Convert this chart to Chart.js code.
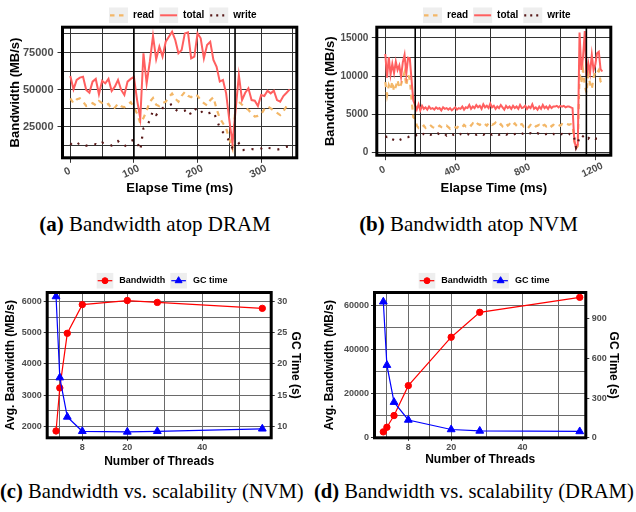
<!DOCTYPE html>
<html>
<head>
<meta charset="utf-8">
<script src="https://cdn.jsdelivr.net/npm/chart.js@4.4.1/dist/chart.umd.min.js"></script>
<style>
  html, body { margin: 0; padding: 0; background: #fff; }
  #page { position: relative; width: 636px; height: 512px; overflow: hidden; background: #fff; }
  canvas { position: absolute; }
  .cap { position: absolute; font-family: 'Liberation Serif', 'Times New Roman', serif; font-size: 21px;
         line-height: 21px; white-space: nowrap; color: #000; }
  .cap.low { font-size: 20.6px; }
  .cap b { font-weight: bold; }
</style>
</head>
<body>
<div id="page">
  <canvas id="chartA" width="318" height="200" style="left:0;top:0;width:318px;height:200px"></canvas>
  <canvas id="chartB" width="318" height="200" style="left:318px;top:0;width:318px;height:200px"></canvas>
  <canvas id="chartC" width="318" height="210" style="left:0;top:260px;width:318px;height:210px"></canvas>
  <canvas id="chartD" width="318" height="210" style="left:318px;top:260px;width:318px;height:210px"></canvas>
  <div class="cap" style="left:0;top:214px;width:310px;text-align:center"><b>(a)</b> Bandwidth atop DRAM</div>
  <div class="cap" style="left:318px;top:214px;width:301px;text-align:center"><b>(b)</b> Bandwidth atop NVM</div>
  <div class="cap low" style="left:0;top:481px"><b>(c)</b> Bandwidth vs. scalability (NVM)</div>
  <div class="cap low" style="left:314px;top:481px"><b>(d)</b> Bandwidth vs. scalability (DRAM)</div>
</div>
<script>
// ---------- (a) memory bandwidth over time, DRAM ----------
const dramTime = [0,5,10,15,20,25,30,35,40,45,50,55,60,65,70,75,80,85,90,95,
  100,105,110,115,120,125,130,135,140,145,150,155,160,165,170,175,180,185,190,195,
  200,205,210,215,220,225,230,235,240,245,250,255,260,265,270,275,280,285,290,295,
  300,305,310,315,320,325,330,335,340,345];
const dramTotal = [59300,50300,56600,58200,58800,49900,48100,55500,57300,47000,
  56100,54300,57300,49200,52100,56600,49900,46500,55500,57300,
  58600,43100,30800,74500,54300,68900,86200,70500,79000,72300,
  82300,85700,89100,83500,74500,76700,87900,88600,71100,72300,
  87900,84600,71100,80100,82300,70000,65500,55500,56600,47600,
  29700,14000,37000,59900,43100,48000,51000,43100,42700,39100,
  46500,45800,49400,47600,49400,43100,42000,45800,48000,50300];
const dramRead = [44300,41000,43500,44300,42000,39100,39500,41000,39600,42500,
  41000,39600,40500,37000,38000,40700,39000,38200,40000,41700,
  38000,34000,27500,31000,36000,42000,44500,40000,39000,41000,
  42000,45000,47500,44000,42000,46000,48500,46000,45000,47000,
  46000,43000,41000,39500,43000,45000,37000,31000,27500,24000,
  17000,10500,41000,42000,40000,38000,36500,34000,32000,32500,
  33500,37000,39000,37500,36000,34500,33000,35500,39000,39500];
const dramWrite = [14000,12000,13000,14500,13500,12500,12500,13000,13500,12500,
  14500,14000,13500,12500,13000,15500,13000,12000,13500,15500,
  16500,15000,9500,24000,25000,29700,36000,33200,35000,37600,
  39000,39500,40500,37000,35300,35500,36000,37300,33000,36000,
  38200,36000,33500,34200,34500,35300,30200,24500,21500,19600,
  15100,10700,12000,14000,9500,9600,9800,10200,9800,9800,
  10500,11800,11000,10700,10500,9800,10200,11000,11800,11500];
const dramPhaseMarks = [100, 259];
const dramXGrid = [0, 50, 100, 150, 200, 250, 300, 350];
const dramXLabels = [0, 100, 200, 300];
const dramYGrid = [12500, 25000, 37500, 50000, 62500, 75000, 87500];
const dramYLabels = [25000, 50000, 75000];

// ---------- (b) memory bandwidth over time, NVM ----------
const nvmTime = [0,10,20,30,40,50,60,70,80,90,
  100,110,120,130,140,150,160,170,180,190,
  200,210,220,230,240,250,260,270,280,290,
  300,310,320,330,340,350,360,370,380,390,
  400,410,420,430,440,450,460,470,480,490,
  500,510,520,530,540,550,560,570,580,590,
  600,610,620,630,640,650,660,670,680,690,
  700,710,720,730,740,750,760,770,780,790,
  800,810,820,830,840,850,860,870,880,890,
  900,910,920,930,940,950,960,970,980,990,
  1000,1010,1020,1030,1040,1050,1060,1070,1080,1090,
  1100,1110,1120,1130,1140,1150,1160,1170,1180,1190,
  1200,1210,1220,1230,1240];
const nvmTotal = [12900,9800,12500,10200,11600,10400,11900,10800,11400,9900,
  11800,12800,10300,12400,12300,9500,6800,6200,5600,6300,
  5500,6100,5700,5900,5600,6000,5700,5800,5600,5900,
  5700,5800,5500,5900,5700,5800,5600,5800,5500,5700,
  5900,5600,5800,5700,6000,5600,5900,5800,6200,5700,
  6000,5800,6200,5900,6100,5700,6300,5900,6100,5800,
  6400,5900,6100,5700,6000,5800,6200,5900,5600,6100,
  5800,6000,5700,6100,5800,6000,5700,6200,5800,5900,
  6100,5700,6000,5800,6300,5700,5900,5600,6000,5700,
  6200,5800,6000,5700,6100,5800,6000,6000,6100,5900,
  6100,6000,6100,5900,6000,6000,5900,5800,1500,600,
  1100,15700,10800,12500,15900,10000,11700,10400,12800,10800,
  11500,13000,13200,10900,10600];
const nvmRead = [9200,7500,8800,8200,9300,8000,8600,9500,8400,8900,
  9700,10500,8700,10200,9600,7000,4600,4400,3500,3200,
  3400,3300,3500,3200,3400,3300,3500,3300,3200,3400,
  3300,3500,3300,3200,3400,3500,3300,3100,3300,3400,
  3300,3200,3500,3400,3300,3600,3400,3500,3700,3500,
  3800,3600,3900,3700,3600,3800,3900,3700,3500,3800,
  3900,3600,3700,3900,3600,3500,3700,3400,3600,3800,
  3500,3700,3400,3600,3800,3500,3300,3600,3700,3400,
  3600,3500,3300,3600,3500,3700,3400,3500,3600,3300,
  3500,3600,3400,3500,3700,3400,3600,3500,3700,3600,
  3500,3700,3600,3800,3700,3600,3700,3600,1500,500,
  800,10500,9000,10800,8700,7800,10200,9000,8300,9800,
  10600,10400,10800,9300,9000];
const nvmWrite = [2100,2000,2100,1800,1700,1600,1700,1800,1600,1700,
  1800,1900,2000,2000,2100,2100,2200,2100,2300,2200,
  2400,2300,2400,2300,2500,2400,2300,2400,2300,2400,
  2500,2300,2400,2300,2400,2200,2400,2300,2400,2300,
  2400,2200,2300,2400,2300,2200,2300,2400,2300,2200,
  2300,2400,2300,2400,2300,2400,2300,2400,2300,2500,
  2400,2300,2400,2300,2400,2300,2400,2500,2400,2300,
  2400,2300,2400,2300,2400,2500,2400,2300,2400,2500,
  2400,2300,2400,2500,2400,2300,2400,2500,2400,2500,
  2400,2300,2400,2500,2400,2300,2400,2300,2400,2400,
  2300,2400,2300,2400,2300,2400,2300,2400,1900,600,
  1200,2000,2300,2100,2300,2000,1800,2100,2000,1900,
  1800,1800,1700,1800,1700];
const nvmPhaseMarks = [171, 1149];
const nvmXGrid = [0, 200, 400, 600, 800, 1000, 1200];
const nvmXLabels = [0, 400, 800, 1200];
const nvmYGrid = [0, 2500, 5000, 7500, 10000, 12500, 15000];
const nvmYLabels = [0, 5000, 10000, 15000];

// ---------- (c)/(d) scalability with thread count ----------
const threads = [1, 2, 4, 8, 20, 28, 56];
const threadGrid = [2, 8, 14, 20, 30, 40, 50];
const threadLabels = [8, 20, 40];

const nvmBandwidth = [1850, 3230, 4980, 5900, 6030, 5970, 5780];
const nvmGcTime = [30.8, 17.8, 11.5, 9.2, 9.1, 9.2, 9.6];
const nvmBwGrid = [2000, 2500, 3000, 3500, 4000, 4500, 5000, 5500, 6000];
const nvmBwLabels = [2000, 3000, 4000, 5000, 6000];
const nvmGcLabels = [10, 15, 20, 25, 30];

const dramBandwidth = [2700, 4800, 10100, 23700, 45700, 57000, 63800];
const dramGcTime = [1030, 550, 270, 135, 63, 52, 48];
const dramBwGrid = [0, 10000, 20000, 30000, 40000, 50000, 60000];
const dramBwLabels = [0, 20000, 40000, 60000];
const dramGcLabels = [0, 300, 600, 900];

// ---------- styling ----------
const FONT = "'Liberation Sans', Arial, Helvetica, sans-serif";
const C_READ = '#F3B768';
const C_TOTAL = '#FF5F5F';
const C_WRITE = '#571818';
const C_BW = '#FF0000';
const C_GC = '#0000FF';
const TICK_GREY = '#4D4D4D';

Chart.defaults.font.family = FONT;
Chart.defaults.color = TICK_GREY;

const pts = (xs, ys) => xs.map((x, i) => ({ x: x, y: ys[i] }));

// frame, phase markers, rotated time labels and the key
const panelDecor = {
  id: 'panelDecor',
  afterDatasetsDraw(chart, args, o) {
    const { ctx, chartArea: a, scales } = chart;
    if (o.vlines) {
      ctx.save();
      ctx.strokeStyle = '#000';
      ctx.lineWidth = 1.6;
      o.vlines.forEach(v => {
        const x = scales.x.getPixelForValue(v);
        ctx.beginPath(); ctx.moveTo(x, a.top); ctx.lineTo(x, a.bottom); ctx.stroke();
      });
      ctx.restore();
    }
  },
  afterDraw(chart, args, o) {
    const { ctx, chartArea: a, scales } = chart;
    ctx.save();
    ctx.strokeStyle = '#000';
    ctx.lineWidth = 3;
    ctx.strokeRect(a.left, a.top, a.right - a.left, a.bottom - a.top);
    ctx.restore();

    if (o.xLabels) {
      const X = o.xLabels;
      ctx.save();
      ctx.font = 'bold ' + X.size + 'px ' + FONT;
      ctx.fillStyle = TICK_GREY;
      ctx.textAlign = 'center';
      ctx.textBaseline = 'middle';
      X.values.forEach(v => {
        const x = scales.x.getPixelForValue(v);
        ctx.save();
        ctx.translate(x + X.dx, a.bottom + X.dy);
        ctx.rotate(-X.angle * Math.PI / 180);
        ctx.fillText(String(v), 0, 0);
        ctx.restore();
      });
      ctx.restore();
    }

    if (o.legend) {
      const L = o.legend;
      let x = L.x;
      ctx.save();
      ctx.font = 'bold ' + L.size + 'px ' + FONT;
      L.items.forEach(it => {
        ctx.fillStyle = '#EEEEEE';
        ctx.fillRect(x, L.y - L.kh / 2, L.kw, L.kh);
        ctx.save();
        ctx.strokeStyle = it.color;
        ctx.lineWidth = it.width;
        ctx.setLineDash(it.dash || []);
        ctx.beginPath(); ctx.moveTo(x + 1, L.y); ctx.lineTo(x + L.kw - 1, L.y); ctx.stroke();
        ctx.restore();
        if (it.point) {
          ctx.fillStyle = it.color;
          ctx.strokeStyle = it.color;
          Chart.helpers.drawPoint(ctx, { pointStyle: it.point, radius: it.radius, borderWidth: 1, rotation: 0 }, x + L.kw / 2, L.y);
        }
        ctx.fillStyle = '#000';
        ctx.textAlign = 'left';
        ctx.textBaseline = 'middle';
        ctx.fillText(it.label, x + L.kw + L.gap, L.y);
        x += L.kw + L.gap + ctx.measureText(it.label).width + L.spacing;
      });
      ctx.restore();
    }
  }
};

// linear axis whose grid lines come from a list and whose labels from another
function axis(o) {
  const horizontal = o.position === 'bottom';
  return {
    type: 'linear',
    position: o.position,
    min: o.min, max: o.max,
    bounds: 'data',
    afterBuildTicks: s => { s.ticks = o.grid.map(v => ({ value: v })); },
    afterFit: s => { if (horizontal) s.height = o.size; else s.width = o.size; },
    grid: {
      display: true,
      drawOnChartArea: o.drawGrid !== false,
      color: o.gridColor || '#333',
      lineWidth: 1,
      borderDash: o.dash || [3, 3],
      drawTicks: true,
      tickLength: o.tickLength,
      tickWidth: 1,
      tickBorderDash: [],
      tickColor: c => (c.tick && o.labels.includes(c.tick.value)) ? '#333' : 'rgba(0,0,0,0)'
    },
    border: { display: false },
    ticks: {
      display: o.showLabels !== false,
      autoSkip: false,
      maxRotation: 0, minRotation: 0,
      padding: o.padding,
      color: TICK_GREY,
      font: { size: o.fontSize, weight: 'bold' },
      callback: v => o.labels.includes(v) ? String(v) : ''
    },
    title: {
      display: true,
      text: o.title,
      color: '#000',
      font: { size: o.titleSize, weight: 'bold' },
      padding: o.titlePadding
    }
  };
}

const baseOptions = (pad) => ({
  responsive: false,
  animation: false,
  devicePixelRatio: 1,
  events: [],
  layout: { padding: pad },
  plugins: { legend: { display: false }, tooltip: { enabled: false } }
});

const timeKey = [
  { label: 'read', color: C_READ, width: 2.2, dash: [4.5, 4.5] },
  { label: 'total', color: C_TOTAL, width: 2 },
  { label: 'write', color: C_WRITE, width: 2.2, dash: [2, 4] }
];

// ----- (a) -----
new Chart(document.getElementById('chartA'), {
  type: 'line',
  data: {
    datasets: [
      { label: 'write', data: pts(dramTime, dramWrite), borderColor: C_WRITE, borderWidth: 2.2, borderDash: [2, 7], pointRadius: 0, order: 0 },
      { label: 'total', data: pts(dramTime, dramTotal), borderColor: C_TOTAL, borderWidth: 2, pointRadius: 0, order: 1 },
      { label: 'read', data: pts(dramTime, dramRead), borderColor: C_READ, borderWidth: 2.2, borderDash: [5, 5], pointRadius: 0, order: 2 }
    ]
  },
  options: Object.assign(baseOptions({ top: 27.2, right: 21.2, left: 0, bottom: 0 }), {
    scales: {
      x: axis({ position: 'bottom', min: -12.3, max: 356.1, grid: dramXGrid, labels: dramXLabels, size: 42.2,
                tickLength: 5, padding: 2, fontSize: 10.5, showLabels: false, gridColor: '#333', dash: [4, 4],
                title: 'Elapse Time (ms)', titleSize: 13, titlePadding: { top: 0, bottom: 4 } }),
      y: axis({ position: 'left', min: 4302, max: 92066, grid: dramYGrid, labels: dramYLabels, size: 62.5,
                tickLength: 5, padding: 4, fontSize: 11, gridColor: '#333', dash: [4, 4],
                title: 'Bandwidth (MB/s)', titleSize: 13, titlePadding: { top: 7.2, bottom: 0 } })
    },
    plugins: {
      legend: { display: false }, tooltip: { enabled: false },
      panelDecor: {
        vlines: dramPhaseMarks,
        xLabels: { values: dramXLabels, dx: -3, dy: 13.9, angle: 25, size: 10.5 },
        legend: { x: 109, y: 15.3, kw: 19, kh: 15.6, gap: 5, spacing: 5, size: 10, items: timeKey }
      }
    }
  }),
  plugins: [panelDecor]
});

// ----- (b) -----
new Chart(document.getElementById('chartB'), {
  type: 'line',
  data: {
    datasets: [
      { label: 'write', data: pts(nvmTime, nvmWrite), borderColor: C_WRITE, borderWidth: 2.2, borderDash: [2, 6.5], pointRadius: 0, order: 0 },
      { label: 'total', data: pts(nvmTime, nvmTotal), borderColor: C_TOTAL, borderWidth: 2, pointRadius: 0, order: 1 },
      { label: 'read', data: pts(nvmTime, nvmRead), borderColor: C_READ, borderWidth: 2.2, borderDash: [5, 5], pointRadius: 0, order: 2 }
    ]
  },
  options: Object.assign(baseOptions({ top: 27.2, right: 25.2, left: 0, bottom: 0 }), {
    scales: {
      x: axis({ position: 'bottom', min: -48.6, max: 1288.6, grid: nvmXGrid, labels: nvmXLabels, size: 44.8,
                tickLength: 5, padding: 2, fontSize: 10, showLabels: false, gridColor: '#333', dash: [4, 4],
                title: 'Elapse Time (ms)', titleSize: 13, titlePadding: { top: 0, bottom: 4.2 } }),
      y: axis({ position: 'left', min: -380, max: 16413, grid: nvmYGrid, labels: nvmYLabels, size: 58.8,
                tickLength: 5, padding: 3.5, fontSize: 10, gridColor: '#333', dash: [4, 4],
                title: 'Bandwidth (MB/s)', titleSize: 13, titlePadding: { top: 4.7, bottom: 0 } })
    },
    plugins: {
      legend: { display: false }, tooltip: { enabled: false },
      panelDecor: {
        vlines: nvmPhaseMarks,
        xLabels: { values: nvmXLabels, dx: -3, dy: 14.8, angle: 25, size: 10 },
        legend: { x: 105, y: 15.3, kw: 19, kh: 15.6, gap: 5, spacing: 5, size: 10, items: timeKey }
      }
    }
  }),
  plugins: [panelDecor]
});

// ----- (c) and (d): bandwidth on the left axis, GC time on the right -----
function scalabilityChart(id, bw, gc, cfg) {
  return new Chart(document.getElementById(id), {
    type: 'line',
    data: {
      datasets: [
        { label: 'GC time', data: pts(threads, gc), yAxisID: 'y2', borderColor: C_GC, backgroundColor: C_GC,
          borderWidth: 1.2, pointStyle: 'triangle', pointRadius: 4.5, pointBorderWidth: 1, order: 0 },
        { label: 'Bandwidth', data: pts(threads, bw), yAxisID: 'y', borderColor: C_BW, backgroundColor: C_BW,
          borderWidth: 1.2, pointStyle: 'circle', pointRadius: 3.2, pointBorderWidth: 1, order: 1 }
      ]
    },
    options: Object.assign(baseOptions({ top: 32.5, right: 0, left: 0, bottom: 0 }), {
      scales: {
        x: axis({ position: 'bottom', min: cfg.xMin, max: cfg.xMax, grid: threadGrid, labels: threadLabels, size: 32.2,
                  tickLength: 3, padding: 1.5, fontSize: 9, gridColor: '#6a6a6a',
                  title: 'Number of Threads', titleSize: 12, titlePadding: { top: 0, bottom: cfg.xTitlePad } }),
        y: axis({ position: 'left', min: cfg.yMin, max: cfg.yMax, grid: cfg.yGrid, labels: cfg.yLabels, size: cfg.leftSize,
                  tickLength: 3.5, padding: 2, fontSize: 9, gridColor: '#6a6a6a',
                  title: 'Avg. Bandwidth (MB/s)', titleSize: 12, titlePadding: { top: cfg.leftTitlePad, bottom: 0 } }),
        y2: axis({ position: 'right', min: cfg.y2Min, max: cfg.y2Max, grid: cfg.y2Labels, labels: cfg.y2Labels, size: cfg.rightSize,
                   tickLength: 3.5, padding: 2.5, fontSize: 9, drawGrid: false,
                   title: 'GC Time (s)', titleSize: 12, titlePadding: { top: 15.8, bottom: 0 } })
      },
      plugins: {
        legend: { display: false }, tooltip: { enabled: false },
        panelDecor: {
          legend: { x: cfg.legendX, y: 20.7, kw: 16.6, kh: 15.6, gap: 6, spacing: 5, size: 9, items: [
            { label: 'Bandwidth', color: C_BW, width: 1.2, point: 'circle', radius: 3 },
            { label: 'GC time', color: C_GC, width: 1.2, point: 'triangle', radius: 4 }
          ] }
        }
      }
    }),
    plugins: [panelDecor]
  });
}

scalabilityChart('chartC', nvmBandwidth, nvmGcTime, {
  xMin: -1.36, xMax: 58.37,
  yMin: 1631, yMax: 6288, yGrid: nvmBwGrid, yLabels: nvmBwLabels,
  y2Min: 8.155, y2Max: 31.44, y2Labels: nvmGcLabels,
  leftSize: 47.2, rightSize: 46.8, leftTitlePad: 3.6, xTitlePad: 1.1, legendX: 96.7
});

scalabilityChart('chartD', dramBandwidth, dramGcTime, {
  xMin: -1.47, xMax: 57.7,
  yMin: 0, yMax: 66000, yGrid: dramBwGrid, yLabels: dramBwLabels,
  y2Min: 0, y2Max: 1100, y2Labels: dramGcLabels,
  leftSize: 56.5, rightSize: 50.2, leftTitlePad: 4.5, xTitlePad: 2.8, legendX: 100.7
});
</script>
</body>
</html>
